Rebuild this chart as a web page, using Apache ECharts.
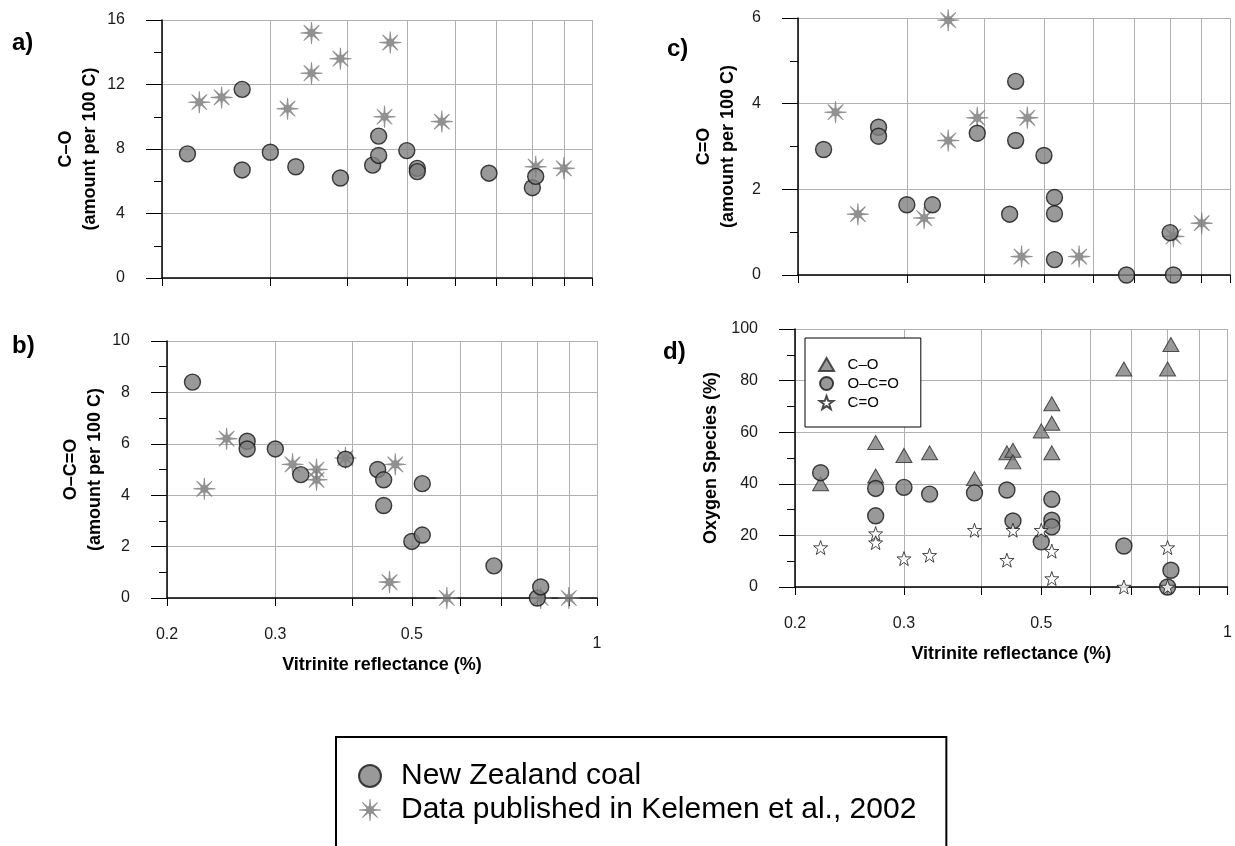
<!DOCTYPE html>
<html><head><meta charset="utf-8">
<script src="https://cdn.jsdelivr.net/npm/echarts@6/dist/echarts.min.js"></script>
<style>html,body{margin:0;padding:0;background:#fff}#c{width:1235px;height:846px}</style>
</head><body><div id="c"></div>
<script>
// ---- tick values / labels ----
const xTickValues = [0.2, 0.3, 0.4, 0.5, 0.6, 0.7, 0.8, 0.9, 1];
const xLabelValues = [0.2, 0.3, 0.5, 1];
const xTitle = 'Vitrinite reflectance (%)';

// ---- series names ----
const nzName = 'New Zealand coal';
const kelName = 'Data published in Kelemen et al., 2002';
const dNames = ['C–O', 'O–C=O', 'C=O'];

// ---- panel a: C–O (amount per 100 C) ----
const aNZ = [[0.22,7.7],[0.27,11.7],[0.27,6.7],[0.30,7.8],[0.33,6.9],[0.39,6.2],[0.44,7.0],[0.45,7.6],[0.45,8.8],[0.50,7.9],[0.52,6.8],[0.52,6.6],[0.68,6.5],[0.80,5.6],[0.81,6.3]];
const aKel = [[0.23,10.9],[0.25,11.2],[0.32,10.5],[0.35,15.2],[0.35,12.7],[0.39,13.6],[0.46,10.0],[0.47,14.6],[0.57,9.7],[0.81,6.9],[0.90,6.8]];

// ---- panel b: O–C=O (amount per 100 C) ----
const bNZ = [[0.22,8.4],[0.27,6.1],[0.27,5.8],[0.30,5.8],[0.33,4.8],[0.39,5.4],[0.44,5.0],[0.45,4.6],[0.45,3.6],[0.50,2.2],[0.52,4.45],[0.52,2.45],[0.68,1.25],[0.80,0.0],[0.81,0.43]];
const bKel = [[0.23,4.25],[0.25,6.2],[0.32,5.2],[0.35,5.0],[0.35,4.6],[0.39,5.45],[0.46,0.62],[0.47,5.2],[0.57,0.0],[0.81,0.0],[0.90,0.0]];

// ---- panel c: C=O (amount per 100 C) ----
const cNZ = [[0.22,2.93],[0.27,3.45],[0.27,3.24],[0.30,1.64],[0.33,1.64],[0.39,3.31],[0.44,1.42],[0.45,4.52],[0.45,3.14],[0.50,2.79],[0.52,1.81],[0.52,1.43],[0.52,0.36],[0.68,0.0],[0.80,0.99],[0.81,0.0]];
const cKel = [[0.23,3.8],[0.25,1.42],[0.32,1.33],[0.35,5.95],[0.35,3.14],[0.39,3.67],[0.46,0.43],[0.47,3.67],[0.57,0.43],[0.81,0.9],[0.90,1.21]];

// ---- panel d: Oxygen species (%) ----
const dCO = [[0.22,40],[0.27,56],[0.27,43],[0.30,51],[0.33,52],[0.39,42],[0.44,52],[0.45,53],[0.45,48.5],[0.50,60.5],[0.52,71],[0.52,63.5],[0.52,52],[0.68,84.5],[0.80,84.5],[0.81,94]];
const dOCO = [[0.22,44.3],[0.27,38.2],[0.27,27.6],[0.30,38.6],[0.33,36],[0.39,36.5],[0.44,37.6],[0.45,25.6],[0.50,17.5],[0.52,34],[0.52,25.9],[0.52,23.3],[0.68,15.9],[0.80,0],[0.81,6.5]];
const dCdO = [[0.22,15.3],[0.27,20.7],[0.27,17.2],[0.30,11],[0.33,12.3],[0.39,22],[0.44,10.4],[0.45,22],[0.50,22],[0.52,13.9],[0.52,3.3],[0.68,0],[0.80,15.3],[0.80,0]];

// ---- styling helpers ----
const FONT = 'Liberation Sans, Arial, Helvetica, sans-serif';
const GRID_C = '#b0b0b0';
function P(r, deg) {
  const a = deg * Math.PI / 180;
  return (50 + r * Math.cos(a)).toFixed(2) + ',' + (50 + r * Math.sin(a)).toFixed(2);
}
function asteriskPath() {
  const pts = [];
  for (let k = 0; k < 8; k++) {
    const t = k * 45 - 90;
    pts.push(P(19, t - 15), P(50, t - 2.5), P(50, t + 2.5), P(19, t + 15));
  }
  return 'path://M' + pts.join('L') + 'Z';
}
function starPath(n, rin) {
  const pts = [];
  for (let i = 0; i < 2 * n; i++) pts.push(P(i % 2 ? rin : 50, 180 * i / n - 90));
  return 'path://M' + pts.join('L') + 'Z';
}
const KEL_SYMBOL = asteriskPath();
const STAR5 = starPath(5, 20);
const TRI = 'path://M50,0L100,86L0,86Z';

function xAxisFor(gi, showLabels) {
  return {
    type: 'log', logBase: 10, gridIndex: gi, min: 0.2, max: 1,
    axisLine: { show: true, onZero: false, lineStyle: { color: '#000', width: 1.5 } },
    axisTick: { show: true, customValues: xTickValues, length: 8, lineStyle: { color: '#000', width: 1 } },
    minorTick: { show: false }, minorSplitLine: { show: false },
    splitLine: { show: true, lineStyle: { color: GRID_C, width: 1 } },
    axisLabel: {
      show: showLabels, customValues: xLabelValues, margin: 29, fontSize: 16, color: '#1a1a1a', fontFamily: FONT,
      formatter: v => { const s = String(Math.round(v * 10) / 10); return s === '1' ? '{one|1}' : s; },
      rich: { one: { padding: [9, 0, 0, 0], fontSize: 16, color: '#1a1a1a', fontFamily: FONT } }
    },
    name: showLabels ? xTitle : '', nameLocation: 'middle', nameGap: 58,
    nameTextStyle: { fontSize: 18, fontWeight: 'bold', color: '#000', fontFamily: FONT }
  };
}
function yAxisFor(gi, max, interval, name, nameGap) {
  return {
    type: 'value', gridIndex: gi, min: 0, max: max, interval: interval,
    axisLine: { show: true, onZero: false, lineStyle: { color: '#000', width: 1.5 } },
    axisTick: { show: true, length: 16, lineStyle: { color: '#000', width: 1 } },
    minorTick: { show: true, splitNumber: 2, length: 8, lineStyle: { color: '#000', width: 1 } },
    minorSplitLine: { show: false },
    splitLine: { show: true, lineStyle: { color: GRID_C, width: 1 } },
    axisLabel: { margin: 37, fontSize: 16, color: '#1a1a1a', fontFamily: FONT },
    name: name, nameLocation: 'middle', nameRotate: 90, nameGap: nameGap,
    nameTextStyle: { fontSize: 18, fontWeight: 'bold', lineHeight: 24, color: '#000', fontFamily: FONT }
  };
}
const nzStyle = { color: '#808080', borderColor: '#151515', borderWidth: 1.4 };
const kelStyle = { color: '#767676' };
function nzSeries(gi, data) {
  return { type: 'scatter', name: nzName, xAxisIndex: gi, yAxisIndex: gi, symbol: 'circle', symbolSize: 16, itemStyle: nzStyle, data: data, z: 3 };
}
function kelSeries(gi, data) {
  return { type: 'scatter', name: kelName, xAxisIndex: gi, yAxisIndex: gi, symbol: KEL_SYMBOL, symbolSize: 22, itemStyle: kelStyle, data: data, z: 2 };
}
function panelTitle(t, left, top) {
  return { text: t, left: left, top: top, padding: 0, textStyle: { fontSize: 24, fontWeight: 'bold', color: '#000', fontFamily: FONT } };
}

const option = {
  animation: false,
  backgroundColor: '#fff',
  title: [panelTitle('a)', 12, 31), panelTitle('b)', 12, 334), panelTitle('c)', 667, 37), panelTitle('d)', 663, 340)],
  grid: [
    { left: 162, top: 20, width: 430, height: 258 },
    { left: 167, top: 341, width: 430, height: 257 },
    { left: 798, top: 18, width: 432, height: 257 },
    { left: 795, top: 329, width: 434, height: 258 }
  ],
  xAxis: [xAxisFor(0, false), xAxisFor(1, true), xAxisFor(2, false), xAxisFor(3, true)],
  yAxis: [
    yAxisFor(0, 16, 4, 'C–O\n(amount per 100 C)', 60),
    yAxisFor(1, 10, 2, 'O–C=O\n(amount per 100 C)', 60),
    yAxisFor(2, 6, 2, 'C=O\n(amount per 100 C)', 58),
    yAxisFor(3, 100, 20, 'Oxygen Species (%)', 72)
  ],
  legend: [
    {
      data: [nzName, kelName], orient: 'vertical', left: 336, top: 737, height: 160,
      padding: [22, 30, 40, 22], itemWidth: 52, itemHeight: 22, itemGap: 0,
      borderColor: '#000', borderWidth: 2, backgroundColor: '#fff', selectedMode: false,
      textStyle: { fontSize: 30, lineHeight: 34, color: '#000', fontFamily: FONT }
    },
    {
      data: [{ name: dNames[0], icon: TRI }, { name: dNames[1] }, { name: dNames[2] }],
      orient: 'vertical', left: 805, top: 338,
      padding: [17, 22, 15, 13], itemWidth: 32, itemHeight: 13, itemGap: 0,
      borderColor: '#000', borderWidth: 1, backgroundColor: '#fff', selectedMode: false,
      textStyle: { fontSize: 15, lineHeight: 19, color: '#000', fontFamily: FONT }
    }
  ],
  series: [
    kelSeries(0, aKel), nzSeries(0, aNZ),
    kelSeries(1, bKel), nzSeries(1, bNZ),
    kelSeries(2, cKel), nzSeries(2, cNZ),
    { type: 'scatter', name: dNames[0], xAxisIndex: 3, yAxisIndex: 3, symbol: TRI, symbolSize: [16, 14], itemStyle: { color: '#7f7f7f', borderColor: '#2a2a2a', borderWidth: 1 }, data: dCO, z: 2 },
    { type: 'scatter', name: dNames[1], xAxisIndex: 3, yAxisIndex: 3, symbol: 'circle', symbolSize: 16, itemStyle: nzStyle, data: dOCO, z: 3 },
    { type: 'scatter', name: dNames[2], xAxisIndex: 3, yAxisIndex: 3, symbol: STAR5, symbolSize: 14, itemStyle: { color: '#fff', borderColor: '#1a1a1a', borderWidth: 1 }, data: dCdO, z: 4 }
  ]
};
const chart = echarts.init(document.getElementById('c'), null, { renderer: 'canvas' });
chart.setOption(option);
</script></body></html>
